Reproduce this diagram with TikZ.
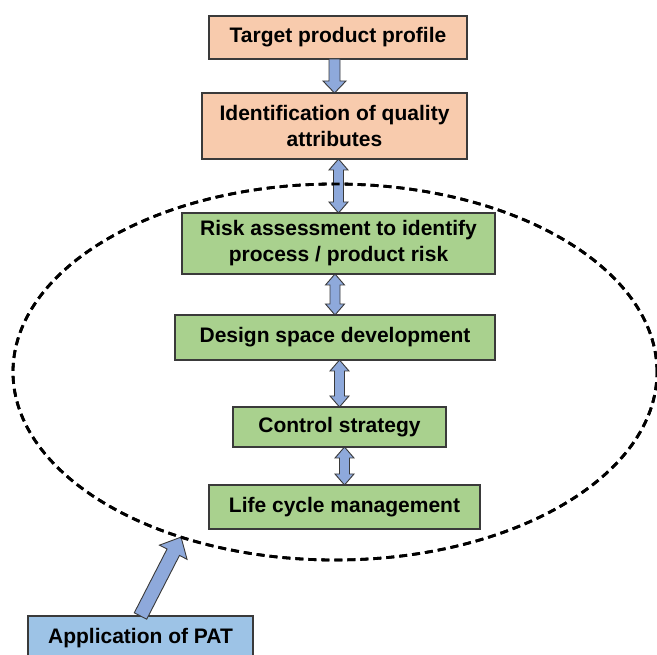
\documentclass[tikz,border=0pt]{standalone}
\usepackage{fontspec}
\setmainfont{Liberation Sans}
\usepackage{tikz}
\usetikzlibrary{calc,positioning,shapes.geometric}
\definecolor{peach}{HTML}{F8CBAD}
\definecolor{leaf}{HTML}{A9D18E}
\definecolor{sky}{HTML}{9DC3E6}
\definecolor{arblue}{HTML}{8EA9DB}
\definecolor{edge}{HTML}{3A3A3A}
\tikzset{
	qbd/.style={x=1pt, y=-1pt},
	box/.style={draw=edge, line width=1.2pt, inner sep=0pt, outer sep=0pt,
		align=center, font=\bfseries\fontsize{21}{26}\selectfont},
	box size/.style 2 args={minimum width=#1, minimum height=#2},
	goal box/.style={box, fill=peach},
	qbd box/.style={box, fill=leaf},
	pat box/.style={box, fill=sky},
	zone/.style={ellipse, draw=black, line width=2.8pt, dash pattern=on 8pt off 5pt,
		inner sep=0pt, outer sep=0pt},
	block arrow/.style={draw=edge, fill=arblue, line width=0.9pt, line join=miter},
	ar shaft/.store in=\arshaft, ar shaft=5pt,
	ar head/.store in=\arhead, ar head=9.5pt,
	ar len/.store in=\arlen, ar len=11pt
}
% fat arrows between two anchors
\newcommand\fatarrow[3][]{%
	\draw[block arrow,#1] (#2) coordinate (s) (#3) coordinate (e)
		($(e)!\arlen!(s)$) coordinate (h)
		($(s)!\arshaft!90:(e)$) -- ($(h)!\arshaft!90:(e)$) -- ($(h)!\arhead!90:(e)$)
		-- (e) -- ($(h)!\arhead!-90:(e)$) -- ($(h)!\arshaft!-90:(e)$)
		-- ($(s)!\arshaft!-90:(e)$) -- cycle;}
\newcommand\fatboth[3][]{%
	\draw[block arrow,#1] (#2) coordinate (s) (#3) coordinate (e)
		($(s)!\arlen!(e)$) coordinate (h1) ($(e)!\arlen!(s)$) coordinate (h2)
		(s) -- ($(h1)!\arhead!90:(e)$) -- ($(h1)!\arshaft!90:(e)$)
		-- ($(h2)!\arshaft!90:(e)$) -- ($(h2)!\arhead!90:(e)$) -- (e)
		-- ($(h2)!\arhead!-90:(e)$) -- ($(h2)!\arshaft!-90:(e)$)
		-- ($(h1)!\arshaft!-90:(e)$) -- ($(h1)!\arhead!-90:(e)$) -- cycle;}
\begin{document}
\begin{tikzpicture}[qbd]
  \useasboundingbox (0,0) rectangle (657,655);
  \node[goal box, box size={258pt}{43pt}] (tpp) at (338,37.5) {Target product profile};
  \node[goal box, box size={265pt}{66pt}, below=34pt of tpp, xshift=-3.5pt] (cqa)
        {Identification of quality\\attributes};
  \node[qbd box, box size={313pt}{61pt}, below=54pt of cqa, xshift=4pt] (risk)
        {Risk assessment to identify\\process / product risk};
  \node[qbd box, box size={320pt}{45pt}, below=41pt of risk, xshift=-3.5pt] (space)
        {Design space development};
  \node[qbd box, box size={213pt}{40pt}, below=47pt of space, xshift=4.5pt] (ctrl)
        {Control strategy};
  \node[qbd box, box size={271pt}{44pt}, below=38pt of ctrl, xshift=5pt] (life)
        {Life cycle management};
  \node[pat box, box size={225pt}{44pt}] (pat) at (140.5,638) {Application of PAT};
  \node[zone, minimum width=644pt, minimum height=376pt] (qbdzone) at (335,372) {};

  \fatarrow[ar shaft=5.5pt, ar head=11.5pt, ar len=12pt]{cqa.north |- tpp.south}{cqa.north}
  \fatboth{risk.north |- cqa.south}{risk.north}
  \fatboth{space.north |- risk.south}{space.north}
  \fatboth{ctrl.north |- space.south}{ctrl.north}
  \fatboth{life.north |- ctrl.south}{life.north}
  \fatarrow[ar shaft=7pt, ar head=15.5pt, ar len=17pt]{pat.north}{qbdzone.227}
  % ring goes over the arrows
  \node[zone, minimum width=644pt, minimum height=376pt] at (qbdzone) {};
\end{tikzpicture}
\end{document}
